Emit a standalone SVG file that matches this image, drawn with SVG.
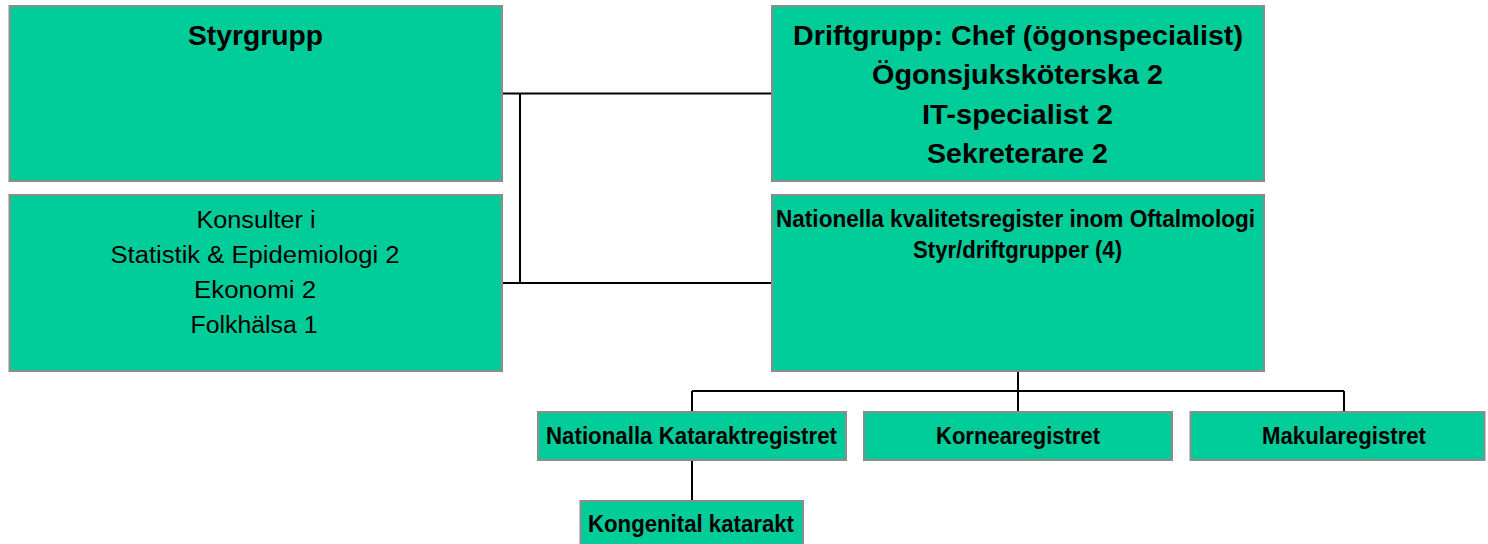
<svg xmlns="http://www.w3.org/2000/svg" width="1488" height="544" viewBox="0 0 1488 544">
<style>
.box{fill:#00CC99;stroke:#8C8C8C;stroke-width:2}
.c{stroke:#000;stroke-width:2;fill:none}
text{font-family:"Liberation Sans",Arial,sans-serif;fill:#000;text-anchor:middle}
.b{font-weight:bold}
</style>
<rect width="1488" height="544" fill="#fff"/>
<g id="connectors">
<path class="c" d="M502 93.5H772M520 93.5V283M502 283H772"/>
<path class="c" d="M1018 371V391M692 391H1344M692 391V412M1018 391V412M1344 391V412M692 460V501"/>
</g>
<g id="styrgrupp">
<rect class="box" x="9.5" y="6" width="492.5" height="175"/>
<text class="b" x="255.5" y="45" font-size="28" textLength="135" lengthAdjust="spacingAndGlyphs">Styrgrupp</text>
</g>
<g id="konsulter">
<rect class="box" x="9.5" y="195" width="492.5" height="176"/>
<text x="256" y="228" font-size="23.5" textLength="119" lengthAdjust="spacingAndGlyphs">Konsulter i</text>
<text x="255" y="263" font-size="23.5" textLength="289" lengthAdjust="spacingAndGlyphs">Statistik &amp; Epidemiologi 2</text>
<text x="255" y="298" font-size="23.5" textLength="122" lengthAdjust="spacingAndGlyphs">Ekonomi 2</text>
<text x="254" y="333" font-size="23.5" textLength="127" lengthAdjust="spacingAndGlyphs">Folkhälsa 1</text>
</g>
<g id="driftgrupp">
<rect class="box" x="772" y="6" width="492" height="175"/>
<text class="b" x="1018" y="45" font-size="28" textLength="450" lengthAdjust="spacingAndGlyphs">Driftgrupp: Chef (ögonspecialist)</text>
<text class="b" x="1017.5" y="84" font-size="28" textLength="291" lengthAdjust="spacingAndGlyphs">Ögonsjuksköterska 2</text>
<text class="b" x="1017.5" y="124" font-size="28" textLength="191" lengthAdjust="spacingAndGlyphs">IT-specialist 2</text>
<text class="b" x="1017.5" y="163" font-size="28" textLength="181" lengthAdjust="spacingAndGlyphs">Sekreterare 2</text>
</g>
<g id="nationella">
<rect class="box" x="772" y="195" width="492" height="176"/>
<text class="b" x="1015.5" y="226.5" font-size="23" textLength="479" lengthAdjust="spacingAndGlyphs">Nationella kvalitetsregister inom Oftalmologi</text>
<text class="b" x="1017.5" y="257.5" font-size="23" textLength="209" lengthAdjust="spacingAndGlyphs">Styr/driftgrupper (4)</text>
</g>
<g id="katarakt">
<rect class="box" x="538" y="412" width="308" height="48"/>
<text class="b" x="691.5" y="443.5" font-size="23" textLength="291" lengthAdjust="spacingAndGlyphs">Nationalla Kataraktregistret</text>
</g>
<g id="kornea">
<rect class="box" x="864" y="412" width="308" height="48"/>
<text class="b" x="1018" y="443.5" font-size="23" textLength="164" lengthAdjust="spacingAndGlyphs">Kornearegistret</text>
</g>
<g id="makula">
<rect class="box" x="1190.5" y="412" width="294" height="48"/>
<text class="b" x="1344" y="443.5" font-size="23" textLength="164" lengthAdjust="spacingAndGlyphs">Makularegistret</text>
</g>
<g id="kongenital">
<rect class="box" x="580.5" y="501" width="222.5" height="50"/>
<text class="b" x="691" y="532" font-size="23" textLength="206" lengthAdjust="spacingAndGlyphs">Kongenital katarakt</text>
</g>
</svg>
